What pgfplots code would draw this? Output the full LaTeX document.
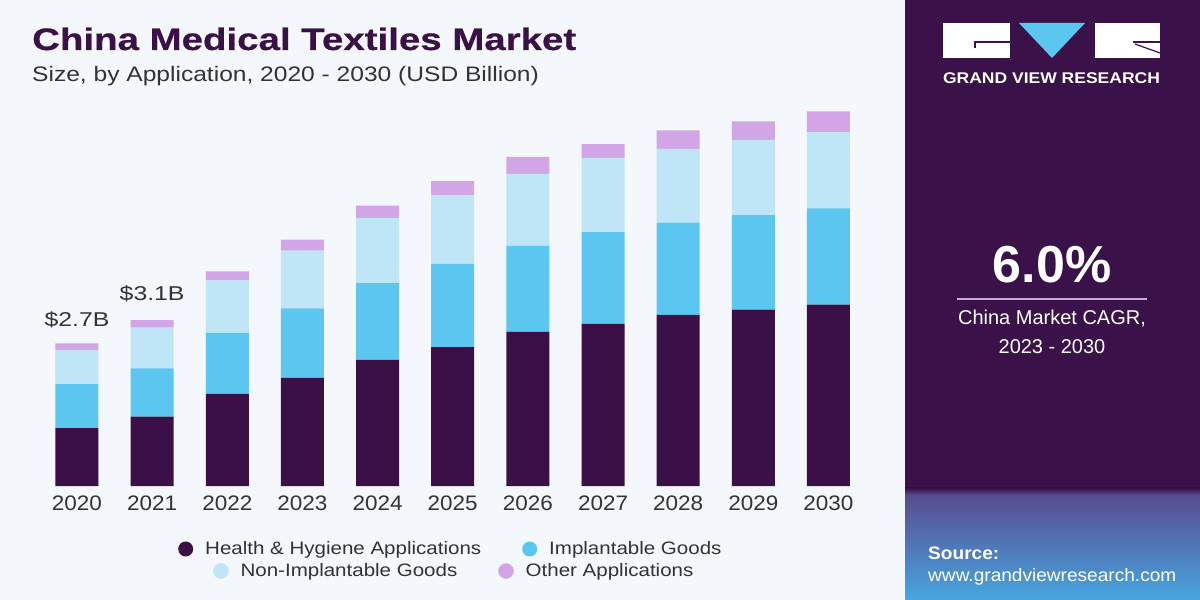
\documentclass[border=0pt]{standalone}
\usepackage{fontspec}
\setmainfont{Liberation Sans}
\newfontfamily\ftitle{Liberation Sans}[FakeStretch=1.24, FakeBold=0.6]
\newfontfamily\fsub{Liberation Sans}[FakeStretch=1.17]
\newfontfamily\fleg{Liberation Sans}[FakeStretch=1.14]
\newfontfamily\ftick{Liberation Sans}[FakeStretch=1.07]
\newfontfamily\flab{Liberation Sans}[FakeStretch=1.24]
\newfontfamily\fgvr{Liberation Sans}[FakeStretch=1.13]
\newfontfamily\fsrc{Liberation Sans}[FakeStretch=1.06]
\usepackage{pgfplots}
\usepackage{pgfplotstable}
\pgfplotsset{compat=1.18}
\definecolor{hh}{HTML}{3A1046}
\definecolor{imp}{HTML}{5BC7F0}
\definecolor{nonimp}{HTML}{BEE6F7}
\definecolor{oth}{HTML}{D2A6E6}
\definecolor{bg}{HTML}{F4F7FB}
\definecolor{panel}{HTML}{3A1148}
\definecolor{panelmid}{HTML}{574C90}
\definecolor{panelblue}{HTML}{48A6E0}
\definecolor{txt}{HTML}{333333}
\definecolor{logoblue}{HTML}{5BC7F0}
\definecolor{lil}{HTML}{C9A9DE}

\pgfplotstableread{
x hh imp non oth
0 1.09 0.83 0.64 0.13
1 1.31 0.91 0.77 0.14
2 1.74 1.15 0.99 0.17
3 2.04 1.31 1.09 0.21
4 2.38 1.45 1.23 0.23
5 2.62 1.57 1.30 0.26
6 2.91 1.62 1.36 0.32
7 3.06 1.73 1.40 0.26
8 3.23 1.74 1.39 0.35
9 3.33 1.78 1.42 0.35
10 3.42 1.82 1.43 0.40
}\datatable

\pgfplotsset{
  legrow/.style={
    legend style={draw=none, fill=none, inner sep=0pt, anchor=west,
      nodes={inner sep=0pt},
      font=\fleg\fontsize{18}{22}\selectfont, text=txt,
      /tikz/every odd column/.append style={column sep=12pt},
      /tikz/every even column/.append style={column sep=41pt}},
    legend columns=-1,
  },
}

\begin{document}
\begin{tikzpicture}[x=1pt,y=1pt]
\useasboundingbox (0,0) rectangle (1200,600);
\fill[bg] (0,0) rectangle (905,600);
\fill[panel] (905,0) rectangle (1200,600);
\shade[bottom color=panelblue, top color=panelmid] (905,0) rectangle (1200,105);
\shade[bottom color=panelmid, top color=panel] (905,105) rectangle (1200,112);

% title
\node[anchor=base west, inner sep=0, text=hh, font=\ftitle\fontsize{31}{36}\selectfont\bfseries] at (32,550) {China Medical Textiles Market};
\node[anchor=base west, inner sep=0, text=txt, font=\fsub\fontsize{21}{25}\selectfont] at (32,518) {Size, by Application, 2020 - 2030 (USD Billion)};

\begin{axis}[
  at={(39.4pt,114pt)}, anchor=south west,
  scale only axis, width=826.65pt, height=291.5pt,
  xmin=-0.5, xmax=10.5, ymin=0, ymax=5.5,
  ybar stacked, bar width=43pt,
  axis line style={draw=none}, tick style={draw=none},
  ytick=\empty, xtick=data,
  xticklabels={2020,2021,2022,2023,2024,2025,2026,2027,2028,2029,2030},
  xticklabel style={anchor=base, yshift=-24pt, text=txt, font=\ftick\fontsize{21}{24}\selectfont},
  clip=false,
  legrow,
  legend style={at={(axis description cs:0.16767,-0.2161)}},
]
\addplot[fill=hh, draw=none, legend image code/.code={\fill[hh] (0pt,0pt) circle (7.5pt);}] table[x=x,y=hh]{\datatable};
\addplot[fill=imp, draw=none, legend image code/.code={\fill[imp] (0pt,0pt) circle (7.5pt);}] table[x=x,y=imp]{\datatable};
\addplot[fill=nonimp, draw=none] table[x=x,y=non]{\datatable};
\addplot[fill=oth, draw=none] table[x=x,y=oth]{\datatable};
\legend{Health \& Hygiene Applications, Implantable Goods}
\node[anchor=base, inner sep=0, text=txt, font=\flab\fontsize{20}{24}\selectfont, yshift=17pt] at (axis cs:0,2.69) {\$2.7B};
\node[anchor=base, inner sep=0, text=txt, font=\flab\fontsize{20}{24}\selectfont, yshift=20pt] at (axis cs:1,3.13) {\$3.1B};
\end{axis}

\begin{axis}[
  at={(39.4pt,114pt)}, anchor=south west,
  scale only axis, width=826.65pt, height=291.5pt,
  xmin=-0.5, xmax=10.5, ymin=0, ymax=5.5,
  hide axis,
  legrow,
  legend style={at={(axis description cs:0.2100,-0.2916)}},
]
\addlegendimage{legend image code/.code={\fill[nonimp] (0pt,0pt) circle (7.5pt);}}
\addlegendentry{Non-Implantable Goods}
\addlegendimage{legend image code/.code={\fill[oth] (0pt,0pt) circle (7.5pt);}}
\addlegendentry{Other Applications}
\end{axis}

% right panel logo
\fill[white] (943,577) rectangle (1010,542);
\draw[panel, line width=1.2pt] (975,552) -- (975,558) -- (1010,558);
\fill[logoblue] (1019,577) -- (1085,577) -- (1052,542) -- cycle;
\fill[white] (1095,577) rectangle (1160,542);
\draw[panel, line width=1.2pt] (1133,558) -- (1160,558);
\draw[panel, line width=1.2pt] (1135,556) -- (1160,547);
\node[anchor=center, inner sep=0, text=white, font=\fgvr\fontsize{15.5}{18}\selectfont\bfseries] at (1051.5,522) {GRAND VIEW RESEARCH};

\node[anchor=center, inner sep=0, text=white, font=\fontsize{52}{60}\selectfont\bfseries] at (1052,335) {6.0\%};
\draw[lil, line width=2pt] (957,301) -- (1147,301);
\node[anchor=center, inner sep=0, text=white, font=\fontsize{20}{24}\selectfont] at (1052,281) {China Market CAGR,};
\node[anchor=center, inner sep=0, text=white, font=\fontsize{20}{24}\selectfont] at (1052,253) {2023 - 2030};

\node[anchor=west, inner sep=0, text=white, font=\fsrc\fontsize{18}{22}\selectfont\bfseries] at (928,47) {Source:};
\node[anchor=west, inner sep=0, text=white, font=\fsrc\fontsize{18}{22}\selectfont] at (928,23) {www.grandviewresearch.com};
\end{tikzpicture}
\end{document}
